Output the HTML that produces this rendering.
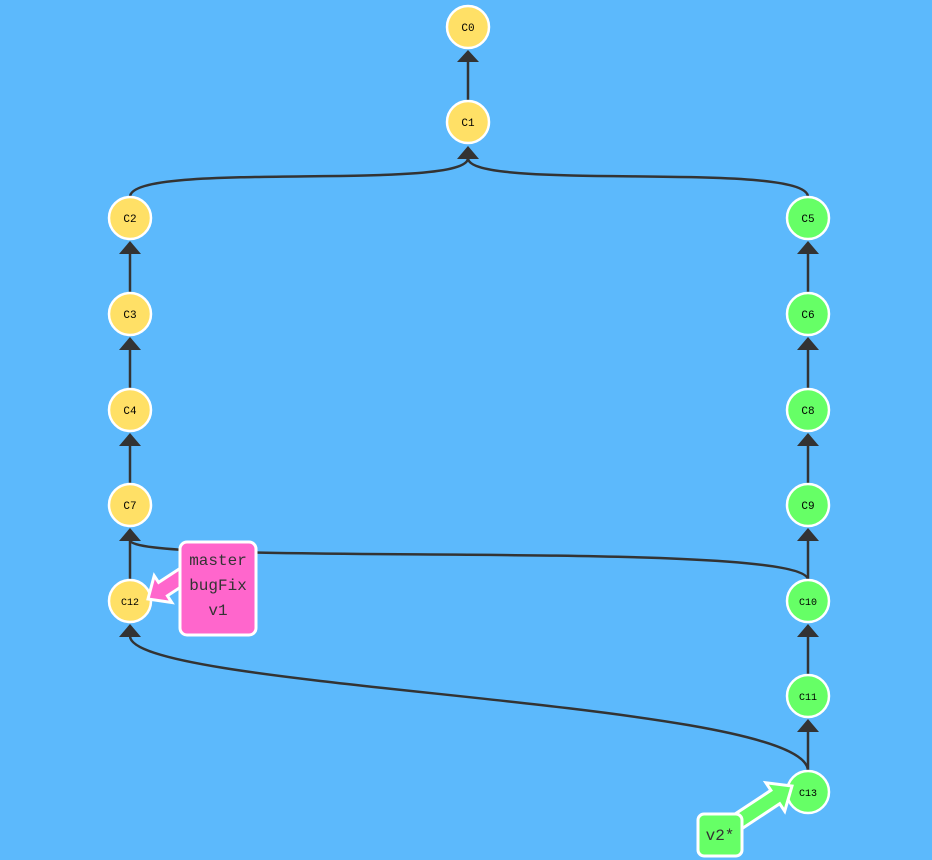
<!DOCTYPE html>
<html><head><meta charset="utf-8"><style>
html,body{margin:0;padding:0;background:#5cb9fc;}
svg{display:block}
text{font-family:"Liberation Mono",monospace;}
</style></head><body>
<svg width="932" height="860" viewBox="0 0 932 860" xmlns="http://www.w3.org/2000/svg">
<rect width="932" height="860" fill="#5cb9fc"/>
<g fill="none" stroke="#333" stroke-width="2.5">
<path d="M468,101 L468,60"/>
<path d="M130,197 C130,160 468,192 468,158"/>
<path d="M808,197 C808,160 468,192 468,158"/>
<path d="M130,293 L130,253"/><path d="M130,389 L130,349"/><path d="M130,484 L130,445"/><path d="M130,580 L130,540"/>
<path d="M808,293 L808,253"/><path d="M808,389 L808,349"/><path d="M808,484 L808,445"/><path d="M808,580 L808,540"/><path d="M808,675 L808,636"/><path d="M808,771 L808,731"/>
<path d="M808,580 C808,538 130,568 130,540"/>
<path d="M808,771 C808,700 130,690 130,636"/>
</g>
<g fill="#333">
<polygon points="468,50 457,62 479,62"/>
<polygon points="468,146 457,159 479,159"/>
<polygon points="130,241 119,254 141,254"/>
<polygon points="130,337 119,350 141,350"/>
<polygon points="130,433 119,446 141,446"/>
<polygon points="130,528 119,541 141,541"/>
<polygon points="130,624 119,637 141,637"/>
<polygon points="808,241 797,254 819,254"/>
<polygon points="808,337 797,350 819,350"/>
<polygon points="808,433 797,446 819,446"/>
<polygon points="808,528 797,541 819,541"/>
<polygon points="808,624 797,637 819,637"/>
<polygon points="808,719 797,732 819,732"/>
</g>
<g stroke="#fff" stroke-width="2.5">
<circle cx="468" cy="27" r="21" fill="#ffe066"/>
<circle cx="468" cy="122" r="21" fill="#ffe066"/>
<circle cx="130" cy="218" r="21" fill="#ffe066"/>
<circle cx="130" cy="314" r="21" fill="#ffe066"/>
<circle cx="130" cy="410" r="21" fill="#ffe066"/>
<circle cx="130" cy="505" r="21" fill="#ffe066"/>
<circle cx="130" cy="601" r="21" fill="#ffe066"/>
<circle cx="808" cy="218" r="21" fill="#66ff66"/>
<circle cx="808" cy="314" r="21" fill="#66ff66"/>
<circle cx="808" cy="410" r="21" fill="#66ff66"/>
<circle cx="808" cy="505" r="21" fill="#66ff66"/>
<circle cx="808" cy="601" r="21" fill="#66ff66"/>
<circle cx="808" cy="696" r="21" fill="#66ff66"/>
<circle cx="808" cy="792" r="21" fill="#66ff66"/>
</g>
<g font-size="11" text-anchor="middle" fill="#000">
<text x="468" y="31">C0</text><text x="468" y="126">C1</text>
<text x="130" y="222">C2</text><text x="130" y="318">C3</text><text x="130" y="414">C4</text><text x="130" y="509">C7</text><text x="130" y="605" font-size="10">C12</text>
<text x="808" y="222">C5</text><text x="808" y="318">C6</text><text x="808" y="414">C8</text><text x="808" y="509">C9</text><text x="808" y="605" font-size="10">C10</text><text x="808" y="700" font-size="10">C11</text><text x="808" y="796" font-size="10">C13</text>
</g>
<polygon points="181.2,567.6 158.6,582.4 154.2,575.7 148,599 171.8,602.5 167.4,595.8 190,581" fill="#ff66cc" stroke="#fff" stroke-width="3" stroke-linejoin="miter"/>
<rect x="180" y="542" width="76" height="93" rx="7" fill="#ff66cc" stroke="#fff" stroke-width="3"/>
<g font-size="16" text-anchor="middle" fill="#333">
<text x="218" y="565">master</text><text x="218" y="590">bugFix</text><text x="218" y="615">v1</text>
</g>
<polygon points="730.8,816.8 770.9,790.3 765.9,782.8 792,786 784.7,811.2 779.7,803.7 739.6,830.2" fill="#66ff66" stroke="#fff" stroke-width="3"/>
<rect x="698" y="814" width="44" height="42" rx="6" fill="#66ff66" stroke="#fff" stroke-width="3"/>
<text x="720" y="840" font-size="16" text-anchor="middle" fill="#333">v2*</text>
</svg>
</body></html>
